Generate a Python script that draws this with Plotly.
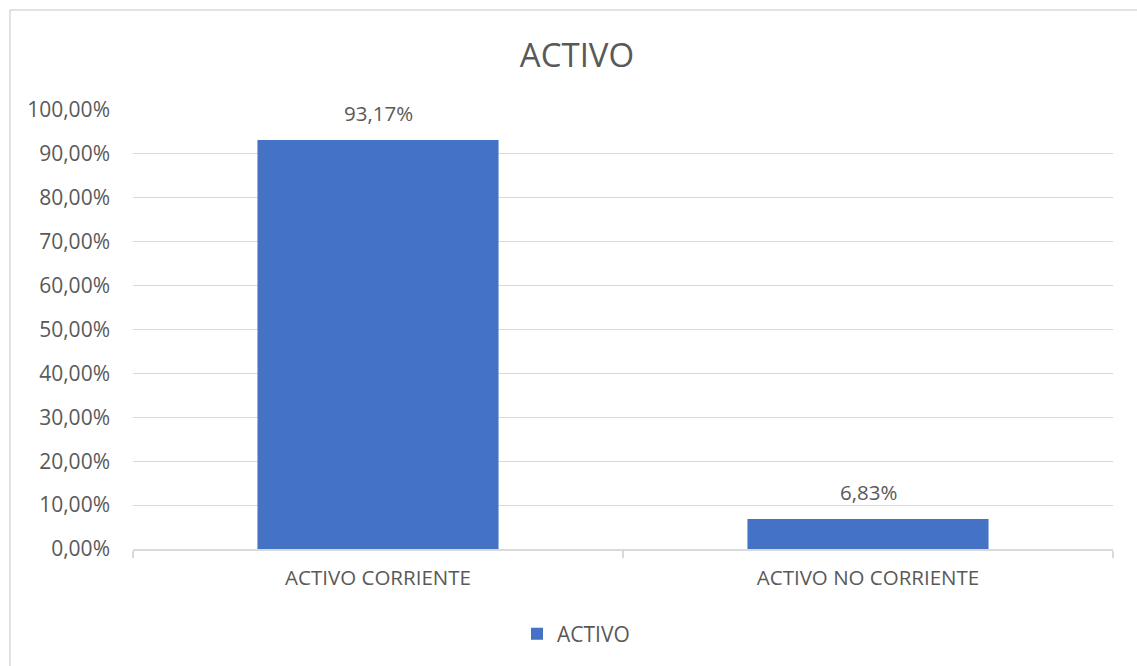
import plotly.graph_objects as go

categories = ["ACTIVO CORRIENTE", "ACTIVO NO CORRIENTE"]
values = [0.9317, 0.0683]
series_name = "ACTIVO"
title_text = "ACTIVO"

W, H = 1137, 666
L, R, T, B = 133, 1113, 110, 549

def px_x(p):
    return (p - L) / (R - L)

def px_y(p):
    return (B - p) / (B - T)

FONT = "Open Sans"
GREY = "#595959"
BORDER = "#d9d9d9"

fig = go.Figure()
fig.add_trace(go.Bar(
    x=categories, y=values, name=series_name,
    marker=dict(color="#4472C4", line=dict(width=0)),
    showlegend=True,
))
for c, v in zip(categories, values):
    fig.add_annotation(x=c, y=v, text=f"{v*100:.2f}%".replace(".", ","),
                       showarrow=False, yanchor="middle", yshift=27,
                       font=dict(family=FONT, size=20.5, color=GREY))

fig.update_layout(
    width=W, height=H,
    margin=dict(l=L, r=W - R, t=T, b=H - B),
    paper_bgcolor="white", plot_bgcolor="white",
    separators=", ",
    bargap=0.508,
    font=dict(family=FONT, color=GREY),
    title=dict(text=title_text, x=577 / W, xanchor="center", y=1 - 55 / H,
               yanchor="middle", font=dict(family=FONT, size=33, color=GREY)),
    xaxis=dict(showline=True, linecolor=BORDER, linewidth=1.5,
               ticks="outside", tickson="boundaries", ticklen=7, tickcolor=BORDER, tickwidth=1.5,
               tickfont=dict(family=FONT, size=20.5, color=GREY), showgrid=False,
               ticklabelstandoff=10),
    yaxis=dict(range=[0, 1.0], dtick=0.1, tick0=0, tickformat=".2%",
               showgrid=True, gridcolor=BORDER, gridwidth=1.3, zeroline=False,
               tickfont=dict(family=FONT, size=21, color=GREY), ticks="", ticklabelstandoff=22),
    legend=dict(orientation="h", x=px_x(576), xanchor="center", y=px_y(634), yanchor="middle",
                font=dict(family=FONT, size=21, color=GREY)),
    shapes=[
        dict(type="line", xref="paper", yref="paper",
             x0=px_x(10), x1=px_x(1140), y0=px_y(10), y1=px_y(10),
             line=dict(color=BORDER, width=1.5), layer="below"),
        dict(type="line", xref="paper", yref="paper",
             x0=px_x(10), x1=px_x(10), y0=px_y(10), y1=px_y(670),
             line=dict(color=BORDER, width=1.5), layer="below"),
    ],
)

fig.write_html(
    "out.html",
    config={"displayModeBar": False},
    post_script="document.body.style.margin='0';document.body.style.overflow='hidden';",
)
